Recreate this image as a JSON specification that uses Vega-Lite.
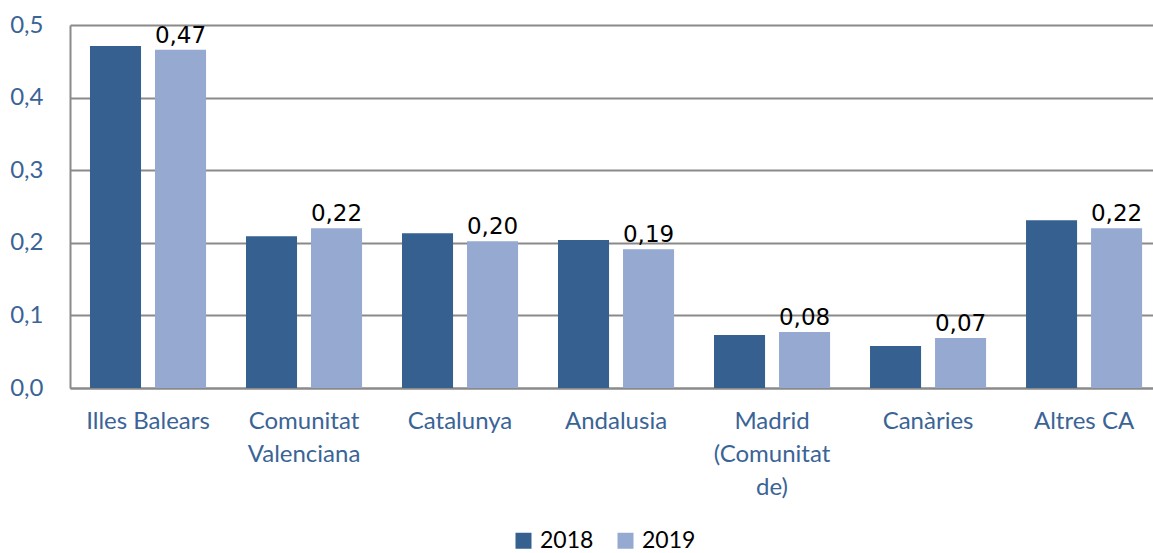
{
  "$schema": "https://vega.github.io/schema/vega-lite/v6.json",
  "autosize": "none",
  "width": 1083,
  "height": 363,
  "padding": {"left": 70, "top": 25, "right": 0, "bottom": 165},
  "background": "white",
  "data": {
    "values": [
      {"region": "Illes Balears", "year": "2018", "value": 0.471},
      {"region": "Illes Balears", "year": "2019", "value": 0.466},
      {"region": "Comunitat Valenciana", "year": "2018", "value": 0.209},
      {"region": "Comunitat Valenciana", "year": "2019", "value": 0.220},
      {"region": "Catalunya", "year": "2018", "value": 0.213},
      {"region": "Catalunya", "year": "2019", "value": 0.202},
      {"region": "Andalusia", "year": "2018", "value": 0.204},
      {"region": "Andalusia", "year": "2019", "value": 0.191},
      {"region": "Madrid (Comunitat de)", "year": "2018", "value": 0.073},
      {"region": "Madrid (Comunitat de)", "year": "2019", "value": 0.077},
      {"region": "Canàries", "year": "2018", "value": 0.058},
      {"region": "Canàries", "year": "2019", "value": 0.069},
      {"region": "Altres CA", "year": "2018", "value": 0.231},
      {"region": "Altres CA", "year": "2019", "value": 0.220}
    ]
  },
  "encoding": {
    "x": {
      "field": "region",
      "type": "nominal",
      "sort": null,
      "title": null,
      "scale": {"paddingInner": 0.256, "paddingOuter": 0.099, "align": 0.647},
      "axis": {
        "labelAngle": 0,
        "ticks": false,
        "domainColor": "#8a8a8a",
        "domainWidth": 2,
        "labelFont": "Lato",
        "labelFontSize": 24,
        "labelColor": "#3A6496",
        "labelPadding": 21,
        "labelLineHeight": 33,
        "labelExpr": "indexof(datum.value, 'Comunitat') >= 0 ? split(datum.value, ' ') : datum.value"
      }
    },
    "xOffset": {"field": "year", "type": "nominal", "scale": {"paddingInner": 0.215, "paddingOuter": 0}},
    "y": {
      "field": "value",
      "type": "quantitative",
      "title": null,
      "scale": {"domain": [0, 0.5], "nice": false},
      "axis": {
        "values": [0, 0.1, 0.2, 0.3, 0.4, 0.5],
        "format": ".1f",
        "ticks": false,
        "grid": true,
        "gridColor": "#8a8a8a",
        "gridWidth": 2,
        "domainColor": "#8a8a8a",
        "domainWidth": 2,
        "labelFont": "Lato",
        "labelFontSize": 24,
        "labelColor": "#3A6496",
        "labelPadding": 27
      }
    }
  },
  "layer": [
    {
      "mark": {"type": "bar"},
      "encoding": {
        "color": {
          "field": "year",
          "type": "nominal",
          "title": null,
          "scale": {"domain": ["2018", "2019"], "range": ["#35608F", "#95A9D1"]},
          "legend": {
            "orient": "none",
            "legendX": 442,
            "legendY": 504,
            "direction": "horizontal",
            "symbolType": "square",
            "symbolSize": 256,
            "symbolStrokeWidth": 0,
            "labelFont": "Lato",
            "labelFontSize": 23,
            "labelColor": "#000000",
            "labelBaseline": "middle",
            "columnPadding": 20,
            "labelOffset": 5
          }
        }
      }
    },
    {
      "transform": [{"filter": "datum.year == '2019'"}],
      "mark": {"type": "text", "baseline": "alphabetic", "dy": -7, "font": "DejaVu Sans", "fontSize": 23, "color": "#000000"},
      "encoding": {
        "text": {"field": "value", "type": "quantitative", "format": ".2f"}
      }
    }
  ],
  "config": {
    "view": {"stroke": null},
    "locale": {"number": {"decimal": ",", "thousands": ".", "grouping": [3], "currency": ["", " €"]}}
  }
}
